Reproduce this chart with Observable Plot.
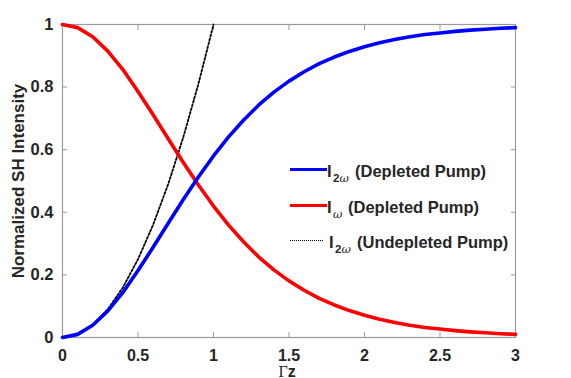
<!DOCTYPE html>
<html>
<head>
<meta charset="utf-8">
<script src="https://cdn.jsdelivr.net/npm/d3@7"></script>
<script src="https://cdn.jsdelivr.net/npm/@observablehq/plot@0.6"></script>
<style>
  html, body { margin: 0; padding: 0; background: #fff; }
  #wrap { position: relative; width: 571px; height: 378px; overflow: hidden; }
  #wrap svg { position: absolute; left: 0; top: 0; }
  .lg { position: absolute; font-family: "Liberation Sans", Arial, sans-serif; font-weight: bold; color: #262626; white-space: nowrap; }
  .t { font-size: 16.5px; line-height: 16px; }
  .s { font-size: 11.5px; line-height: 11px; }
  .w { font-style: italic; font-weight: normal; font-family: "DejaVu Serif", serif; }
  .sw { position: absolute; height: 0; }
</style>
</head>
<body>
<div id="wrap"></div>
<script>
// Γz sample positions
const gz = [0,0.1,0.2,0.3,0.4,0.5,0.6,0.7,0.8,0.9,1.0,1.1,1.2,1.3,1.4,1.5,1.6,1.7,1.8,1.9,2.0,2.1,2.2,2.3,2.4,2.5,2.6,2.7,2.8,2.9,3.0];
// I_2ω (depleted pump)
const i2wDepleted = [0,0.010,0.039,0.085,0.144,0.214,0.288,0.365,0.441,0.513,0.580,0.641,0.695,0.743,0.784,0.819,0.849,0.875,0.896,0.914,0.929,0.942,0.952,0.961,0.968,0.973,0.978,0.982,0.985,0.988,0.990];
// I_ω (depleted pump)
const iwDepleted = [1,0.990,0.961,0.915,0.856,0.786,0.712,0.635,0.559,0.487,0.420,0.359,0.305,0.257,0.216,0.181,0.151,0.125,0.104,0.086,0.071,0.058,0.048,0.039,0.032,0.027,0.022,0.018,0.015,0.012,0.010];
// I_2ω (undepleted pump)
const gzUndepleted = [0,0.1,0.2,0.3,0.4,0.5,0.6,0.7,0.8,0.9,1.0];
const i2wUndepleted = [0,0.01,0.04,0.09,0.16,0.25,0.36,0.49,0.64,0.81,1.0];

const xTicks = [0,0.5,1,1.5,2,2.5,3];
const yTicks = [0,0.2,0.4,0.6,0.8,1];
const xTickLabels = ["0","0.5","1","1.5","2","2.5","3"];
const yTickLabels = ["0","0.2","0.4","0.6","0.8","1"];

const seriesA = gz.map((x, i) => ({x, y: i2wDepleted[i]}));
const seriesB = gz.map((x, i) => ({x, y: iwDepleted[i]}));
const seriesC = gzUndepleted.map((x, i) => ({x, y: i2wUndepleted[i]}));

const frameColor = "#9a9a9a";
const textColor = "#262626";
const sans = "Liberation Sans, Arial, sans-serif";

const chart = Plot.plot({
  width: 571,
  height: 378,
  marginLeft: 62,
  marginRight: 56,
  marginTop: 24,
  marginBottom: 41,
  style: {fontFamily: sans, fontWeight: "bold", fontSize: "16px", color: textColor, background: "transparent", overflow: "visible"},
  x: {domain: [0, 3]},
  y: {domain: [0, 1]},
  marks: [
    Plot.axisX({ticks: xTicks, tickSize: -5, tickPadding: 17, label: null, stroke: frameColor, fill: textColor,
      fontSize: 16, fontWeight: "bold", tickFormat: d => xTickLabels[xTicks.indexOf(d)]}),
    Plot.axisX({anchor: "top", ticks: xTicks, tickSize: -5, label: null, stroke: frameColor, tickFormat: () => ""}),
    Plot.axisY({ticks: yTicks, tickSize: -5, tickPadding: 14, label: null, stroke: frameColor, fill: textColor,
      fontSize: 16.5, fontWeight: "bold", tickFormat: d => yTickLabels[yTicks.indexOf(d)]}),
    Plot.axisY({anchor: "right", ticks: yTicks, tickSize: -5, label: null, stroke: frameColor, tickFormat: () => ""}),
    Plot.frame({stroke: frameColor, strokeWidth: 1.2}),
    Plot.line(seriesC, {x: "x", y: "y", stroke: "#000", strokeWidth: 1.8, strokeDasharray: "2,2"}),
    Plot.line(seriesB, {x: "x", y: "y", stroke: "#ff0000", strokeWidth: 3.6}),
    Plot.line(seriesA, {x: "x", y: "y", stroke: "#0000ff", strokeWidth: 3.6}),
    Plot.text(["Normalized SH Intensity"], {frameAnchor: "left", dx: -44, rotate: -90, text: d => d,
      fontSize: 17, fontWeight: "bold", fill: textColor, textAnchor: "middle", lineAnchor: "middle"}),
    Plot.text(["Γz"], {frameAnchor: "bottom", dx: -2, dy: 39, text: d => d, className: "xlabel",
      fontWeight: "bold", fontSize: 16, fill: textColor, textAnchor: "middle", lineAnchor: "bottom"})
  ]
});

const wrap = document.getElementById("wrap");
wrap.appendChild(chart);

// x label: serif Γ followed by bold sans z, as one text element
const xl = chart.querySelector(".xlabel text");
if (xl) {
  const content = xl.textContent;
  xl.textContent = "";
  const ns = "http://www.w3.org/2000/svg";
  const t1 = document.createElementNS(ns, "tspan");
  t1.setAttribute("font-family", "Liberation Serif, Times New Roman, serif");
  t1.setAttribute("font-weight", "normal");
  t1.textContent = content[0];
  const t2 = document.createElementNS(ns, "tspan");
  t2.textContent = content.slice(1);
  xl.appendChild(t1);
  xl.appendChild(t2);
}

// Legend (HTML overlay)
const legendItems = [
  {sub: "2", color: "#0000ff", dash: "solid", width: 3.6, label: "(Depleted Pump)"},
  {sub: "", color: "#ff0000", dash: "solid", width: 3.6, label: "(Depleted Pump)"},
  {sub: "2", color: "#000000", dash: "dotted", width: 1.8, label: "(Undepleted Pump)"}
];
const rowY = [170, 206, 241];
legendItems.forEach((it, i) => {
  const y = rowY[i];
  const sw = document.createElement("div");
  sw.className = "sw";
  sw.style.left = "290px";
  sw.style.width = (it.dash === "dotted" ? 33 : 37) + "px";
  sw.style.top = (y - it.width / 2) + "px";
  sw.style.borderTop = `${it.width}px ${it.dash} ${it.color}`;
  wrap.appendChild(sw);

  const I = document.createElement("div");
  I.className = "lg t";
  I.style.left = (it.dash === "dotted" ? 329 : 327) + "px";
  I.style.top = (y - 7) + "px";
  I.textContent = "I";
  wrap.appendChild(I);

  const sub = document.createElement("div");
  sub.className = "lg s";
  sub.style.left = (it.dash === "dotted" ? 335 : 333) + "px";
  sub.style.top = (y + 3) + "px";
  sub.innerHTML = it.sub + '<span class="w">ω</span>';
  wrap.appendChild(sub);

  const lab = document.createElement("div");
  lab.className = "lg t";
  lab.style.left = (it.sub ? (it.dash === "dotted" ? 357 : 355) : 348) + "px";
  lab.style.top = (y - 7) + "px";
  lab.textContent = it.label;
  wrap.appendChild(lab);
});
</script>
</body>
</html>
